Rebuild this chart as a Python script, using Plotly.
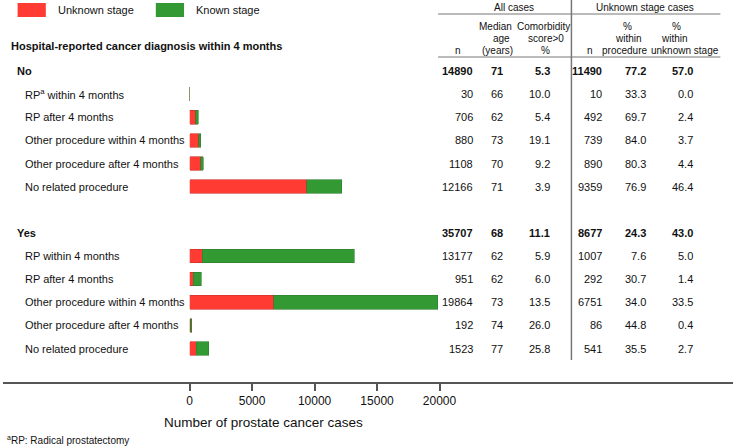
import plotly.graph_objects as go

# ---------------- data ----------------
group_labels = ["No", "Yes"]
group_n = [14890, 35707]
group_age = [71, 68]
group_comorb = [5.3, 11.1]
group_unk_n = [11490, 8677]
group_pct_proc = [77.2, 24.3]
group_pct_stage = [57.0, 43.0]

proc_labels_no = ["RP<sup>a</sup> within 4 months", "RP after 4 months",
                  "Other procedure within 4 months", "Other procedure after 4 months",
                  "No related procedure"]
proc_labels_yes = ["RP within 4 months", "RP after 4 months",
                   "Other procedure within 4 months", "Other procedure after 4 months",
                   "No related procedure"]

n_no = [30, 706, 880, 1108, 12166]
age_no = [66, 62, 73, 70, 71]
comorb_no = [10.0, 5.4, 19.1, 9.2, 3.9]
unk_no = [10, 492, 739, 890, 9359]
pctproc_no = [33.3, 69.7, 84.0, 80.3, 76.9]
pctstage_no = [0.0, 2.4, 3.7, 4.4, 46.4]

n_yes = [13177, 951, 19864, 192, 1523]
age_yes = [62, 62, 73, 74, 77]
comorb_yes = [5.9, 6.0, 13.5, 26.0, 25.8]
unk_yes = [1007, 292, 6751, 86, 541]
pctproc_yes = [7.6, 30.7, 34.0, 44.8, 35.5]
pctstage_yes = [5.0, 1.4, 33.5, 0.4, 2.7]

x_ticks = [0, 5000, 10000, 15000, 20000]

# ---------------- layout helpers ----------------
W, H = 750, 448
FONT = "Liberation Sans, Arial, sans-serif"
TXT = "#111111"
RED = "#FF3B33"
GREEN = "#339933"
GRAY = "#777777"

def px(x):
    return x / W

def py(y):
    return 1 - y / H

ROW0, ROWSTEP, AXIS_Y = 71.0, 23.13, 383.0
y_top = -ROW0 / ROWSTEP
y_bot = (AXIS_Y - ROW0) / ROWSTEP

rows = []
blocks = [
    (proc_labels_no, n_no, age_no, comorb_no, unk_no, pctproc_no, pctstage_no),
    (proc_labels_yes, n_yes, age_yes, comorb_yes, unk_yes, pctproc_yes, pctstage_yes),
]
idx = 0
bar_y, bar_unk, bar_known = [], [], []
for g in range(2):
    rows.append(dict(i=idx, label=group_labels[g], bold=True, n=group_n[g], age=group_age[g],
                     com=group_comorb[g], un=group_unk_n[g], pp=group_pct_proc[g],
                     ps=group_pct_stage[g]))
    idx += 1
    labels, ns, ages, coms, uns, pps, pss = blocks[g]
    for k in range(5):
        rows.append(dict(i=idx, label=labels[k], bold=False, n=ns[k], age=ages[k], com=coms[k],
                         un=uns[k], pp=pps[k], ps=pss[k]))
        bar_y.append(idx)
        bar_unk.append(uns[k])
        bar_known.append(ns[k] - uns[k])
        idx += 1
    idx += 1  # blank row

fig = go.Figure()
fig.add_trace(go.Bar(y=bar_y, x=bar_unk, orientation="h", width=0.59, name="Unknown stage",
                     marker=dict(color=RED, line=dict(color="#C8302A", width=0.6))))
fig.add_trace(go.Bar(y=bar_y, x=bar_known, orientation="h", width=0.59, name="Known stage",
                     marker=dict(color=GREEN, line=dict(color="#2E7D2E", width=0.6))))

ann = []

def add_text(x, y, text, size=11, anchor="left", yref="y", bold=False):
    t = f"<b>{text}</b>" if bold else text
    ann.append(dict(x=px(x), xref="paper", y=y, yref=yref, text=t, showarrow=False,
                    xanchor=anchor, yanchor="middle",
                    font=dict(family=FONT, size=size, color=TXT)))

for r in rows:
    b = r["bold"]
    add_text(12 if b else 21, r["i"], r["label"], size=11, bold=b)
    add_text(485, r["i"], f"{r['n']}", anchor="right", bold=b)
    add_text(508, r["i"], f"{r['age']}", anchor="center", bold=b)
    add_text(564, r["i"], f"{r['com']:.1f}", anchor="right", bold=b)
    add_text(617, r["i"], f"{r['un']}", anchor="right", bold=b)
    add_text(663, r["i"], f"{r['pp']:.1f}", anchor="right", bold=b)
    add_text(711, r["i"], f"{r['ps']:.1f}", anchor="right", bold=b)

def add_head(x, ypix, text, size=10, anchor="center", bold=False):
    add_text(x, py(ypix), text, size=size, anchor=anchor, yref="paper", bold=bold)

add_head(525, 7, "All cases")
add_head(660, 7, "Unknown stage cases")
add_head(467, 50, "n")
add_head(506, 26, "Median")
add_head(512, 38, "age")
add_head(508, 50, "(years)")
add_head(555, 26, "Comorbidity")
add_head(558, 38, "score&gt;0")
add_head(557, 50, "%")
add_head(603, 50, "n")
add_head(642, 26, "%")
add_head(643, 38, "within")
add_head(639, 50, "procedure")
add_head(692, 26, "%")
add_head(690, 38, "within")
add_head(701, 50, "unknown stage")
add_head(6, 46, "Hospital-reported cancer diagnosis within 4 months", size=11, anchor="left", bold=True)

add_head(54, 10, "Unknown stage", size=11, anchor="left")
add_head(196, 10, "Known stage", size=11, anchor="left")

add_head(268, 422, "Number of prostate cancer cases", size=13.5)
add_head(2, 440, "<sup>a</sup>RP: Radical prostatectomy", size=10, anchor="left")

shapes = [
    dict(type="rect", xref="paper", yref="paper", x0=px(15), x1=px(44), y0=py(3), y1=py(17),
         fillcolor=RED, line=dict(width=0)),
    dict(type="rect", xref="paper", yref="paper", x0=px(157), x1=px(186), y0=py(3), y1=py(17),
         fillcolor=GREEN, line=dict(width=0)),
    dict(type="line", xref="paper", yref="paper", x0=px(447), x1=px(737), y0=py(14), y1=py(14),
         line=dict(color=GRAY, width=1)),
    dict(type="line", xref="paper", yref="paper", x0=px(447), x1=px(737), y0=py(57), y1=py(57),
         line=dict(color=GRAY, width=1)),
    dict(type="line", xref="paper", yref="paper", x0=px(584), x1=px(584), y0=py(0), y1=py(360),
         line=dict(color=GRAY, width=1.5)),
    dict(type="line", xref="paper", yref="paper", x0=0, x1=1, y0=py(AXIS_Y), y1=py(AXIS_Y),
         line=dict(color="#555555", width=2)),
]

fig.update_layout(
    width=W, height=H, margin=dict(l=0, r=0, t=0, b=0),
    paper_bgcolor="white", plot_bgcolor="white",
    barmode="stack", showlegend=False,
    annotations=ann, shapes=shapes,
    xaxis=dict(domain=[px(191.7), px(448.5)], range=[0, 20000], tickvals=x_ticks,
               ticktext=[str(v) for v in x_ticks],
               ticks="outside", ticklen=7, tickwidth=1.5, tickcolor="#555555",
               showgrid=False, zeroline=False, showline=False,
               tickfont=dict(family=FONT, size=12, color=TXT)),
    yaxis=dict(domain=[py(AXIS_Y), 1], range=[y_bot, y_top], showticklabels=False,
               showgrid=False, zeroline=False, showline=False, ticks=""),
)

fig.write_html("out.html", config={"displayModeBar": False},
               post_script="document.body.style.margin='0';document.body.style.overflow='hidden';")
